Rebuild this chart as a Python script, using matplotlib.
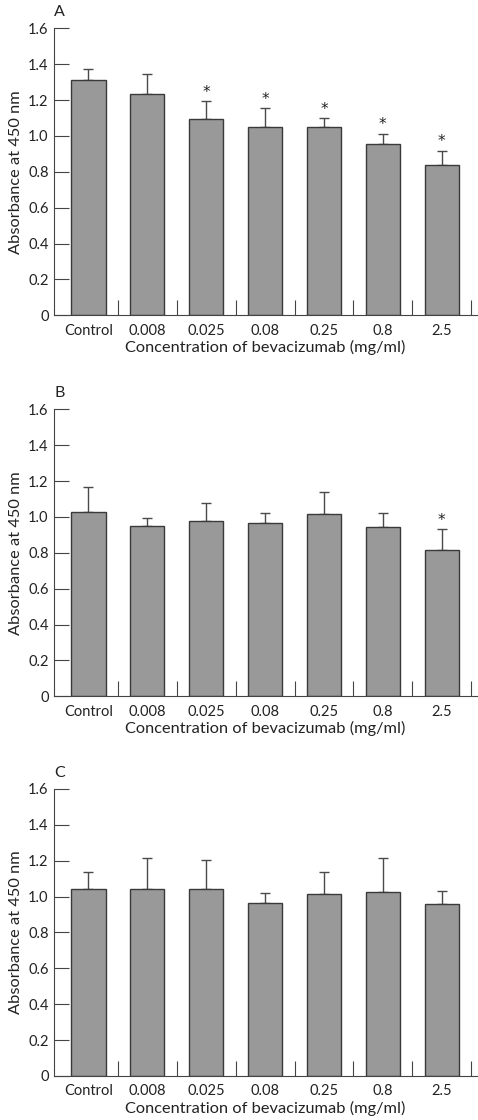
import matplotlib
matplotlib.use("Agg")
import matplotlib.pyplot as plt
import numpy as np

categories = ["Control", "0.008", "0.025", "0.08", "0.25", "0.8", "2.5"]
panel_labels = ["A", "B", "C"]
values_A = [1.31, 1.235, 1.096, 1.048, 1.048, 0.957, 0.836]
errors_A = [0.061, 0.108, 0.097, 0.106, 0.050, 0.055, 0.082]
signif_A = [False, False, True, True, True, True, True]
values_B = [1.025, 0.948, 0.980, 0.965, 1.015, 0.945, 0.816]
errors_B = [0.144, 0.047, 0.095, 0.056, 0.125, 0.077, 0.116]
signif_B = [False, False, False, False, False, False, True]
values_C = [1.044, 1.041, 1.044, 0.966, 1.016, 1.026, 0.957]
errors_C = [0.093, 0.176, 0.158, 0.056, 0.123, 0.191, 0.076]
signif_C = [False] * 7
yticks = [0, 0.2, 0.4, 0.6, 0.8, 1.0, 1.2, 1.4, 1.6]
ytick_labels = ["0", "0.2", "0.4", "0.6", "0.8", "1.0", "1.2", "1.4", "1.6"]
xlabel = "Concentration of bevacizumab (mg/ml)"
ylabel = "Absorbance at 450 nm"

plt.rcParams['font.family'] = ['Lato', 'DejaVu Sans']
fig = plt.figure(figsize=(4.78, 11.2), dpi=100)

panels = [
    (values_A, errors_A, signif_A, 0.7185),
    (values_B, errors_B, signif_B, 0.3783),
    (values_C, errors_C, signif_C, 0.0393),
]
left = 54.3 / 478
height = 287 / 1120
x = np.arange(len(categories))
for (vals, errs, sig, bottom), lab in zip(panels, panel_labels):
    ax = fig.add_axes([left, bottom, 1 - left - 0.002, height])
    ax.bar(x, vals, width=0.58, color="#999999", edgecolor="#3a3a3a", linewidth=1.0, zorder=2)
    ax.errorbar(x, vals, yerr=[np.zeros(len(vals)), errs], fmt="none",
                ecolor="#4a4a4a", elinewidth=1.0, capsize=3.5, capthick=1.0, zorder=1)
    for xi, v, e, s in zip(x, vals, errs, sig):
        if s:
            ax.annotate("*", (xi, v + e), xytext=(0, 7.5), textcoords="offset points",
                        ha="center", va="center_baseline", fontsize=11, color="#222222",
                        family="DejaVu Sans")
    ax.set_xlim(-0.58, 6.6)
    ax.set_ylim(0, 1.6)
    ax.set_yticks(yticks)
    ax.set_yticklabels(ytick_labels)
    ax.set_xticks(x)
    ax.set_xticklabels(categories)
    ax.set_xticks(np.arange(len(categories)) + 0.5, minor=True)
    ax.tick_params(axis="x", which="major", length=0, pad=6, labelsize=10.5, colors="#222222")
    ax.tick_params(axis="x", which="minor", direction="in", length=11, width=0.8, color="#444444")
    ax.tick_params(axis="y", direction="in", length=11, width=0.8, color="#444444",
                   labelsize=10.5, labelcolor="#222222", pad=4)
    for sp in ["top", "right"]:
        ax.spines[sp].set_visible(False)
    for sp in ["left", "bottom"]:
        ax.spines[sp].set_linewidth(0.8)
        ax.spines[sp].set_color("#444444")
    ax.set_xlabel(xlabel, fontsize=11.8, color="#222222", labelpad=2)
    ax.set_ylabel(ylabel, fontsize=11.8, color="#222222", labelpad=4)
    ax.text(0.0, 1.042, lab, transform=ax.transAxes,
            fontsize=11.5, color="#222222", ha="left", va="baseline")

fig.savefig("out.png", dpi=100)
